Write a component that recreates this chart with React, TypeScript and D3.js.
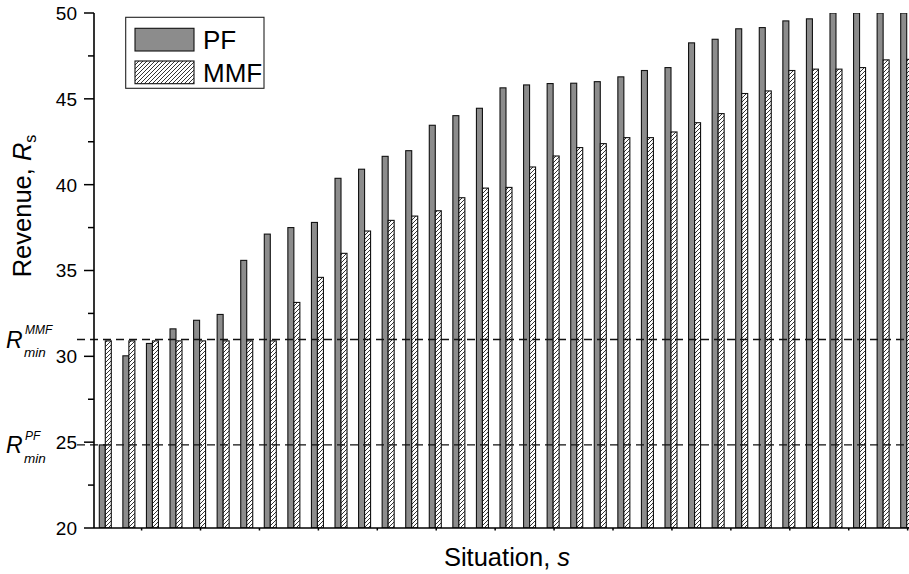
import React from "react";
import * as d3 from "d3";

const situations = d3.range(1, 36);
const pfValues = [24.84, 30.03, 30.75, 31.6, 32.1, 32.44, 35.59, 37.12, 37.5, 37.8, 40.37, 40.9, 41.65, 41.98, 43.46, 44.02, 44.45, 45.64, 45.81, 45.89, 45.91, 46.0, 46.28, 46.65, 46.82, 48.26, 48.47, 49.08, 49.15, 49.54, 49.66, 50, 50, 50, 50];
const mmfValues = [30.9, 30.9, 30.9, 30.9, 30.9, 30.9, 30.9, 30.9, 33.14, 34.6, 36.0, 37.3, 37.92, 38.17, 38.48, 39.24, 39.8, 39.84, 41.03, 41.67, 42.16, 42.39, 42.74, 42.74, 43.07, 43.61, 44.14, 45.31, 45.46, 46.65, 46.73, 46.73, 46.82, 47.27, 47.3];
const yMajorTicks = [20, 25, 30, 35, 40, 45, 50];
const yMinorTicks = [22.5, 27.5, 32.5, 37.5, 42.5, 47.5];
const xMinorTicks = d3.range(2.54, 36, 2.5);
const rMinPF = 24.84;
const rMinMMF = 30.98;
const seriesNames = ["PF", "MMF"];

const FONT = "'Liberation Sans', Arial, Helvetica, sans-serif";

export default function App() {
  const W = 909, H = 574;
  const axisX = 94, axisY = 528, top = 13;
  const y = d3.scaleLinear().domain([20, 50]).range([axisY, top]);
  // group center position by situation index
  const x = d3.scaleLinear().domain([1, 35]).range([105.3, 906.7]);
  const barW = 6;

  return (
    <svg width={W} height={H} style={{ position: "absolute", left: 0, top: 0, background: "#fff" }} fontFamily={FONT}>
      <defs>
        <pattern id="hatch" patternUnits="userSpaceOnUse" width={4} height={4}>
          <rect width={4} height={4} fill="#fff" />
          <path d="M-1,1 L1,-1 M0,4 L4,0 M3,5 L5,3" stroke="#000" strokeWidth={0.8} />
        </pattern>
        <clipPath id="plotClip">
          <rect x={axisX} y={top} width={W - axisX} height={axisY - top} />
        </clipPath>
      </defs>

      {/* bars */}
      <g clipPath="url(#plotClip)">
        {situations.map((s, i) => (
          <g key={s}>
            <rect x={x(s) - barW} y={y(pfValues[i])} width={barW} height={axisY - y(pfValues[i])}
              fill="#8c8c8c" stroke="#111" strokeWidth={1.1} />
            <rect x={x(s)} y={y(mmfValues[i])} width={barW} height={axisY - y(mmfValues[i])}
              fill="url(#hatch)" stroke="#111" strokeWidth={1.1} />
          </g>
        ))}
      </g>

      {/* dashed reference lines */}
      {[rMinMMF, rMinPF].map((v, k) => (
        <line key={k} x1={77} x2={W} y1={y(v)} y2={y(v)} stroke="#111" strokeWidth={1.3} strokeDasharray="8,5" />
      ))}

      {/* y axis */}
      <line x1={axisX} x2={axisX} y1={top} y2={axisY} stroke="#000" strokeWidth={1.6} />
      {yMajorTicks.map((t) => (
        <g key={t}>
          <line x1={axisX - 10} x2={axisX} y1={y(t)} y2={y(t)} stroke="#000" strokeWidth={1.5} />
          <text x={77} y={y(t)} dy="0.36em" textAnchor="end" fontSize={19} fill="#000">{t}</text>
        </g>
      ))}
      {yMinorTicks.map((t) => (
        <line key={t} x1={axisX - 6} x2={axisX} y1={y(t)} y2={y(t)} stroke="#000" strokeWidth={1.5} />
      ))}

      {/* x axis */}
      <line x1={axisX} x2={W} y1={axisY} y2={axisY} stroke="#000" strokeWidth={1.6} />
      {xMinorTicks.map((t) => (
        <line key={t} x1={x(t)} x2={x(t)} y1={axisY} y2={axisY + 2.5} stroke="#000" strokeWidth={1.5} />
      ))}

      {/* axis titles */}
      <text x={507} y={566} textAnchor="middle" fontSize={25.5} fill="#000">
        Situation, <tspan fontStyle="italic">s</tspan>
      </text>
      <text transform="translate(31,206) rotate(-90)" textAnchor="middle" fontSize={25.5} fill="#000">
        Revenue, <tspan fontStyle="italic">R</tspan><tspan fontSize={16} dy={5}>s</tspan>
      </text>

      {/* R_min labels */}
      <g fill="#000" fontStyle="italic">
        <text x={6} y={348} fontSize={23}>R</text>
        <text x={25} y={334} fontSize={12}>MMF</text>
        <text x={24} y={356.5} fontSize={13.5}>min</text>
        <text x={6} y={453} fontSize={23}>R</text>
        <text x={25} y={440} fontSize={12}>PF</text>
        <text x={24} y={463} fontSize={13.5}>min</text>
      </g>

      {/* legend */}
      <g>
        <rect x={125.7} y={17.3} width={138.3} height={71} fill="#fff" stroke="#222" strokeWidth={1.1} />
        <rect x={135} y={28.3} width={59} height={22.7} fill="#8c8c8c" stroke="#111" strokeWidth={1.1} />
        <rect x={135} y={61} width={59} height={22.7} fill="url(#hatch)" stroke="#111" strokeWidth={1.1} />
        <text x={203} y={49.3} fontSize={26} fill="#000">{seriesNames[0]}</text>
        <text x={203} y={82} fontSize={26} fill="#000">{seriesNames[1]}</text>
      </g>
    </svg>
  );
}
